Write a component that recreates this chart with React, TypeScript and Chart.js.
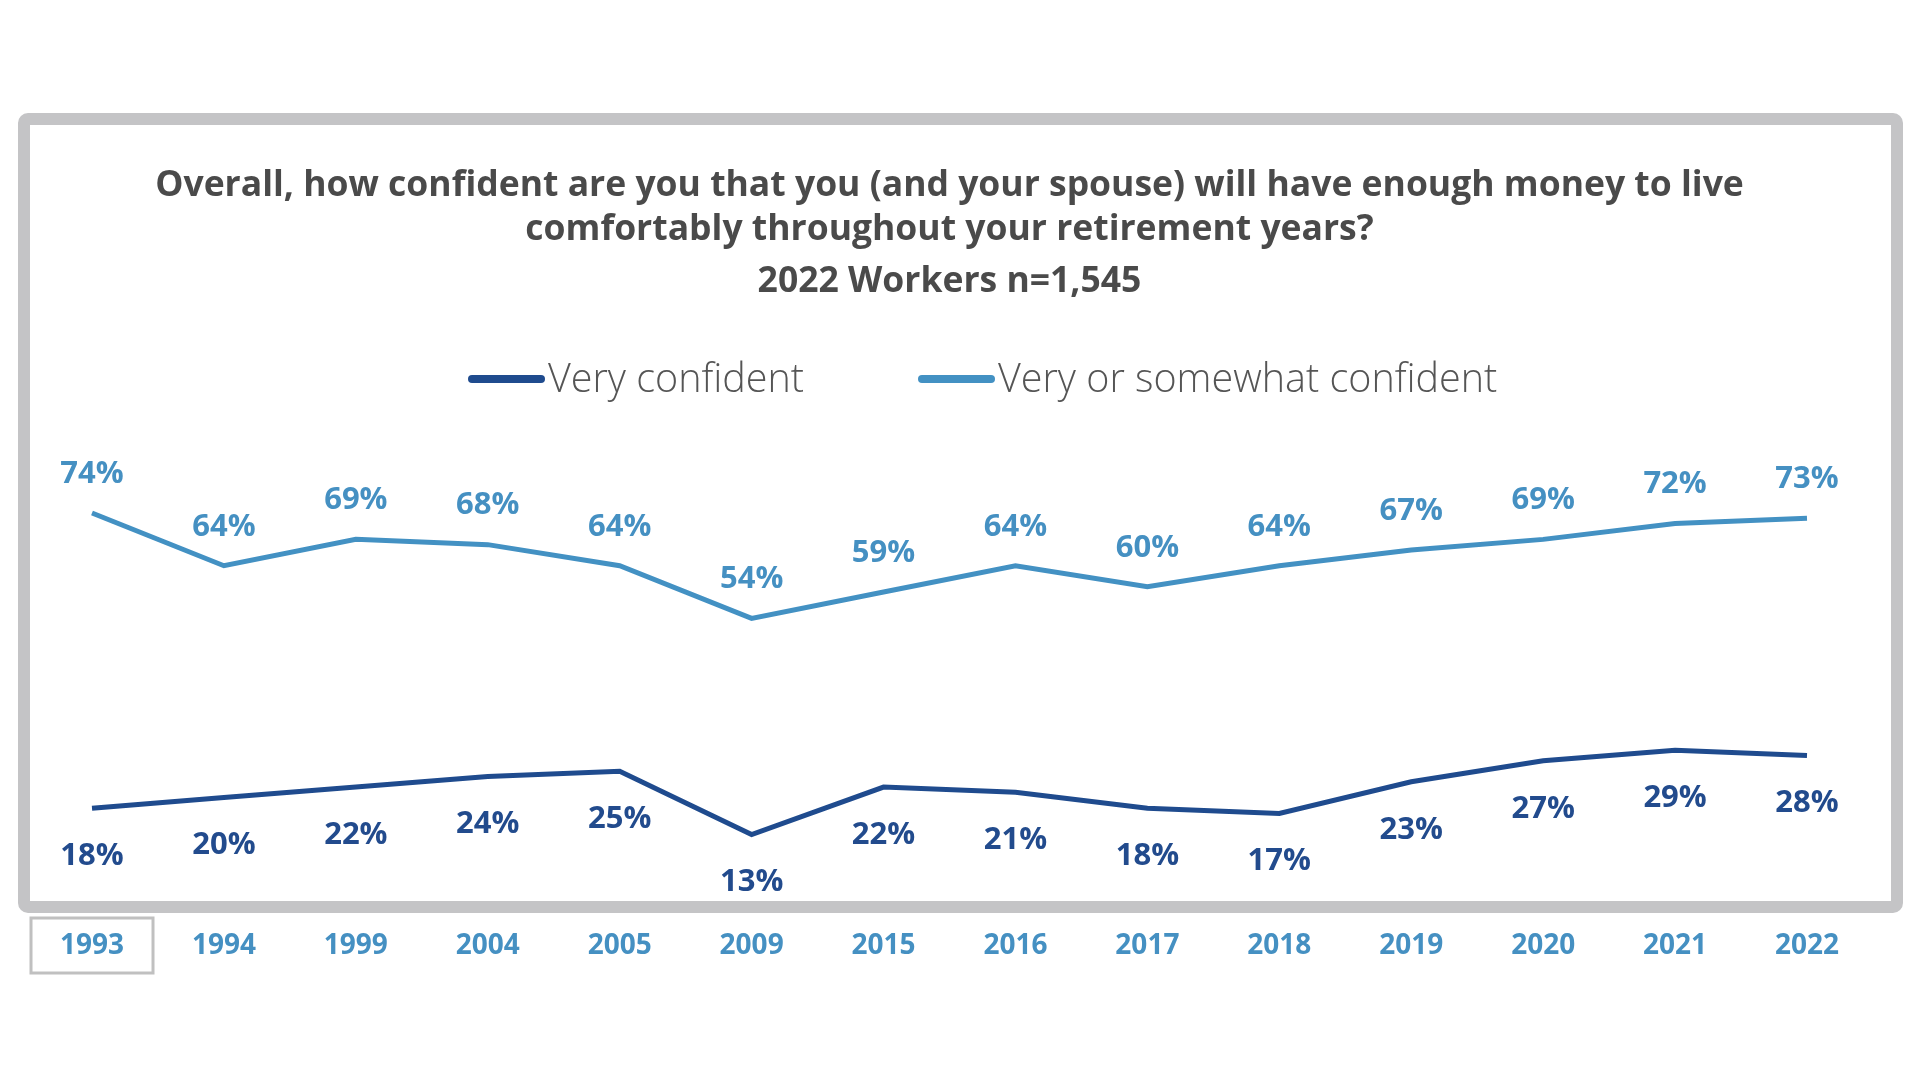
import React, { useEffect, useRef } from "react";
import { Chart, registerables } from "chart.js";
Chart.register(...registerables);

const years = ["1993", "1994", "1999", "2004", "2005", "2009", "2015", "2016", "2017", "2018", "2019", "2020", "2021", "2022"];
const veryConfident = [18, 20, 22, 24, 25, 13, 22, 21, 18, 17, 23, 27, 29, 28];
const veryOrSomewhat = [74, 64, 69, 68, 64, 54, 59, 64, 60, 64, 67, 69, 72, 73];
const seriesNames = ["Very confident", "Very or somewhat confident"];
const titleLines = [
  "Overall, how confident are you that you (and your spouse) will have enough money to live",
  "comfortably throughout your retirement years?",
];
const subtitleText = "2022 Workers n=1,545";

const DARK = "#1f4b8e";
const LIGHT = "#4391c3";
const FONT = "Open Sans";

export default function App() {
  const ref = useRef<HTMLCanvasElement | null>(null);
  useEffect(() => {
    if (!ref.current) return;

    const framePlugin = {
      id: "frame",
      beforeDraw(chart: any) {
        const ctx = chart.ctx;
        ctx.save();
        ctx.fillStyle = "#ffffff";
        ctx.fillRect(0, 0, chart.width, chart.height);
        ctx.strokeStyle = "#c4c4c6";
        ctx.lineWidth = 12;
        ctx.beginPath();
        ctx.roundRect(24, 119, 1873, 788, 4);
        ctx.stroke();
        ctx.restore();
      },
    };

    const labelPlugin = {
      id: "valueLabels",
      afterDatasetsDraw(chart: any) {
        const ctx = chart.ctx;
        ctx.save();
        ctx.font = `bold 31px "${FONT}"`;
        ctx.textAlign = "center";
        ctx.textBaseline = "middle";
        chart.data.datasets.forEach((ds: any, i: number) => {
          const meta = chart.getDatasetMeta(i);
          meta.data.forEach((pt: any, j: number) => {
            const v = ds.data[j];
            ctx.fillStyle = i === 0 ? "#224b8d" : "#4590c2";
            const dy = i === 0 ? 48 : -39;
            ctx.fillText(`${v}%`, pt.x, pt.y + dy);
          });
        });
        ctx.restore();
      },
    };

    const extrasPlugin = {
      id: "extras",
      afterDraw(chart: any) {
        const ctx = chart.ctx;
        ctx.save();
        // box around first category
        const xs = chart.scales.x;
        const x0 = xs.getPixelForTick(0);
        ctx.strokeStyle = "#c0c0c0";
        ctx.lineWidth = 3;
        ctx.strokeRect(x0 - 61, 918, 122, 55);
        // legend
        ctx.font = `300 39.5px "${FONT}"`;
        ctx.textBaseline = "middle";
        ctx.textAlign = "left";
        const starts = [468, 918];
        chart.data.datasets.forEach((ds: any, i: number) => {
          const sx = starts[i];
          ctx.strokeStyle = ds.borderColor;
          ctx.lineWidth = 8;
          ctx.lineCap = "round";
          ctx.beginPath();
          ctx.moveTo(sx + 4, 379);
          ctx.lineTo(sx + 73, 379);
          ctx.stroke();
          ctx.fillStyle = "#555555";
          ctx.fillText(ds.label, sx + 80, 381);
        });
        ctx.restore();
      },
    };

    const chart = new Chart(ref.current, {
      type: "line",
      data: {
        labels: years,
        datasets: [
          { label: seriesNames[0], data: veryConfident, borderColor: DARK, backgroundColor: DARK, borderWidth: 5, pointRadius: 0, tension: 0 },
          { label: seriesNames[1], data: veryOrSomewhat, borderColor: LIGHT, backgroundColor: LIGHT, borderWidth: 5, pointRadius: 0, tension: 0 },
        ],
      },
      options: {
        responsive: false,
        animation: false,
        devicePixelRatio: 1,
        layout: { padding: { top: 0, left: 92, right: 113, bottom: 117 } },
        plugins: {
          legend: { display: false },
          tooltip: { enabled: false },
          title: {
            display: true,
            text: titleLines,
            color: "#4a4a4a",
            font: { family: FONT, weight: "bold", size: 35.5, lineHeight: 44 / 35.5 },
            padding: { top: 164, bottom: 0 },
          },
          subtitle: {
            display: true,
            text: subtitleText,
            color: "#4a4a4a",
            font: { family: FONT, weight: "bold", size: 35.5, lineHeight: 44 / 35.5 },
            padding: { top: 8, bottom: 72 },
          },
        },
        scales: {
          x: {
            offset: false,
            grid: { display: false, drawTicks: false },
            border: { display: false },
            ticks: { color: "#4590c2", font: { family: FONT, weight: "bold", size: 28 }, padding: 26, autoSkip: false, maxRotation: 0 },
            afterFit: (s: any) => { s.height = 60; },
          },
          y: { display: false, min: 0, max: 100 },
        },
      },
      plugins: [framePlugin, labelPlugin, extrasPlugin],
    });
    return () => chart.destroy();
  }, []);

  return (
    <div style={{ position: "absolute", left: 0, top: 0, width: 1920, height: 1080, background: "#fff" }}>
      <canvas ref={ref} width={1920} height={1080} />
    </div>
  );
}
